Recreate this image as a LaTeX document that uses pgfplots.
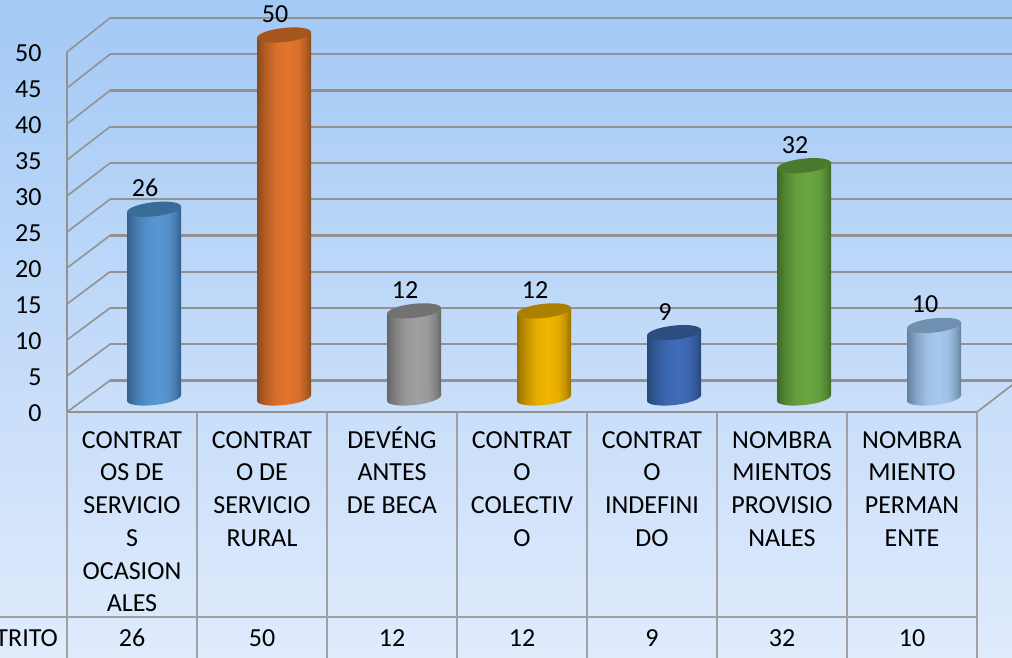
\documentclass[border=0pt]{standalone}
\usepackage{fontspec}
\setmainfont{Carlito}
\usepackage{pgfplots}
\pgfplotsset{compat=1.18}
\pgfplotsset{/pgf/number format/assume math mode=true}
\definecolor{gridc}{RGB}{146,146,146}
\definecolor{tabc}{RGB}{160,160,165}
\definecolor{bgtop}{RGB}{163,201,245}
\definecolor{bgbot}{RGB}{224,235,252}
\newcommand{\fs}{\fontsize{26}{32.7}\selectfont}
\newcommand{\st}{\vphantom{É}}
% cylinder style: name, edge, light, top
\newcommand{\defcyl}[4]{%
  \definecolor{#1edge}{HTML}{#2}\definecolor{#1light}{HTML}{#3}\definecolor{#1top}{HTML}{#4}%
  \pgfdeclarehorizontalshading{cyl#1}{100bp}{%
    color(0bp)=(#1edge); color(25bp)=(#1edge); color(33bp)=(#1light!48!#1edge);
    color(43bp)=(#1light!88!#1edge); color(54bp)=(#1light); color(63bp)=(#1light!88!#1edge);
    color(70bp)=(#1light!48!#1edge); color(75bp)=(#1edge); color(100bp)=(#1edge)}%
  \pgfdeclareplotmark{bot#1}{%
    \pgfpathellipse{\pgfpointorigin}{\pgfqpoint{27pt}{3pt}}{\pgfqpoint{-.8pt}{7pt}}%
    \pgfshadepath{cyl#1}{0}\pgfusepath{discard}}%
}
\pgfdeclareplotmark{cyltop}{%
  \pgfpathellipse{\pgfpointorigin}{\pgfqpoint{27pt}{3pt}}{\pgfqpoint{-.8pt}{7pt}}%
  \pgfusepathqfill}
\defcyl{a}{335F8C}{5897D2}{3B6B97}
\defcyl{b}{8A4A1C}{E3752C}{A5561F}
\defcyl{c}{666666}{A0A0A0}{727272}
\defcyl{d}{967000}{F0B400}{AB8000}
\defcyl{e}{254878}{3F6BB8}{2B4D82}
\defcyl{f}{3E6A28}{6AA640}{4B7A2E}
\defcyl{g}{64809F}{A6C8EE}{7090B0}
% #1 name, #2 category index, #3 value
\newcommand{\cyl}[3]{%
  \pgfmathsetmacro{\px}{154+130*#2}%
  \pgfmathsetmacro{\sh}{-0.108*\px}%
  \edef\slantopts{yshift=\sh pt, yslant=0.108}%
  \addplot[forget plot, only marks, mark=bot#1] coordinates {(#2,0)};
  \expandafter\cylbar\expandafter{\slantopts}{#1}{#2}{#3}%
  \addplot[forget plot, only marks, mark=cyltop, mark options={fill=#1top,draw=none},
    nodes near coords, nodes near coords style={font=\fs, text=black, anchor=center, xshift=-9pt, yshift=21pt}]
    coordinates {(#2,#3)};
}
\newcommand{\cylbar}[4]{%
  \addplot[forget plot, ybar, bar width=54pt, bar shift=0pt, draw=none, shading=cyl#2, shading angle=0, #1]
    coordinates {(#3,#4)};
}
\begin{document}
\begin{tikzpicture}
\clip (0,0) rectangle (1012pt,657pt);
\shade[top color=bgtop, bottom color=bgbot] (0,0) rectangle (1012pt,657pt);
\begin{scope}[x=1pt,y=-1pt,yshift=657pt]
  % back wall and side wall grid
  \foreach \i in {0,...,10}{
    \pgfmathsetmacro{\yb}{380.5-36.25*\i}
    \pgfmathsetmacro{\yf}{412-36*\i}
    \draw[gridc,line width=2.3pt] (110,\yb) -- (1020,\yb);
    \draw[gridc,line width=1.6pt] (67,\yf) -- (110,\yb);
  }
  \draw[gridc,line width=1.6pt] (977,412) -- (1016,382);
  % table
  \draw[tabc,line width=1.4pt] (0,617) -- (977,617);
  \foreach \x in {197,327,457,587,717,847,977}
    \draw[tabc,line width=1.4pt] (\x,412) -- (\x,660);
  \draw[tabc,line width=1.4pt] (67,412) -- (67,660);
  \node[font=\fs,anchor=east] at (61.5,638) {DISTRITO};
  \foreach \x/\v in {132/26,262/50,392/12,522/12,652/9,782/32,912/10}
    \node[font=\fs] at (\x,638) {\v};
\end{scope}
\begin{axis}[
  at={(67pt,245pt)}, anchor=south west, scale only axis,
  width=910pt, height=360pt,
  xmin=0, xmax=7, ymin=0, ymax=50,
  axis x line=bottom, axis y line=left,
  axis line style={-, draw=gridc, line width=2.3pt},
  major tick length=0pt,
  ytick={0,5,...,50},
  xtick={0.5,1.5,2.5,3.5,4.5,5.5,6.5},
  xticklabels={
    {\st CONTRAT\\OS DE\\SERVICIO\\S\\OCASION\\ALES},
    {\st CONTRAT\\O DE\\SERVICIO\\RURAL},
    {\st DEVÉNG\\ANTES\\DE BECA},
    {\st CONTRAT\\O\\COLECTIV\\O},
    {\st CONTRAT\\O\\INDEFINI\\DO},
    {\st NOMBRA\\MIENTOS\\PROVISIO\\NALES},
    {\st NOMBRA\\MIENTO\\PERMAN\\ENTE}},
  xticklabel style={font=\fs, align=center, anchor=north, yshift=-11pt},
  yticklabel style={font=\fs, anchor=east, xshift=-22pt, yshift=-1pt},
]
\end{axis}
\begin{axis}[
  at={(0pt,0pt)}, anchor=south west, scale only axis,
  width=1012pt, height=657pt,
  xmin=-1.184615, xmax=6.6, ymin=-35.675, ymax=54.82,
  hide axis,
]
\cyl{a}{0}{26}
\cyl{b}{1}{50}
\cyl{c}{2}{12}
\cyl{d}{3}{12}
\cyl{e}{4}{9}
\cyl{f}{5}{32}
\cyl{g}{6}{10}
\end{axis}
\end{tikzpicture}
\end{document}
